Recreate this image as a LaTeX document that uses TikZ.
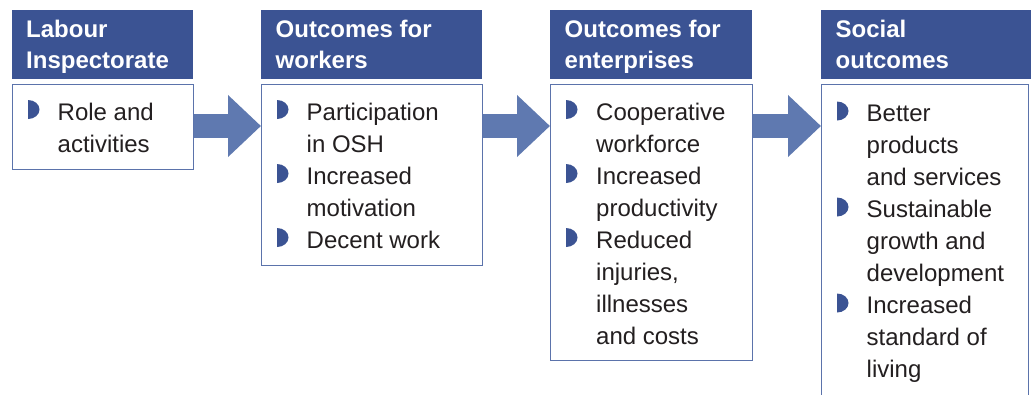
\documentclass[tikz,border=0pt]{standalone}
\usepackage{fontspec}
\setmainfont{Liberation Sans}
\usetikzlibrary{arrows.meta}
\definecolor{hdr}{HTML}{3B5393}
\definecolor{arr}{HTML}{5F79B0}
\definecolor{brd}{HTML}{5B73AB}
\definecolor{txt}{HTML}{231F20}
\begin{document}
\begin{tikzpicture}[x=1pt,y=-1pt,
  hdrbox/.style={fill=hdr,draw=none,inner sep=0pt,anchor=north west},
  bodybox/.style={draw=brd,line width=1.1pt,fill=white,inner sep=0pt,anchor=north west},
  htext/.style={anchor=base west,inner sep=0pt,text=white,font=\fontsize{24}{31}\selectfont\bfseries},
  btext/.style={anchor=base west,inner sep=0pt,text=txt,font=\fontsize{24}{32}\selectfont},
  blockarrow/.style={draw=arr,line width=24pt,-{Triangle[length=33pt,width=60pt,fill=arr]}},
  bul/.style={fill=hdr}
]
\useasboundingbox (0,0) rectangle (1031,394);
% header boxes
\node[hdrbox,minimum width=181pt,minimum height=69pt] (h1) at (12,10) {};
\node[hdrbox,minimum width=221pt,minimum height=69pt] (h2) at (261,10) {};
\node[hdrbox,minimum width=202pt,minimum height=69pt] (h3) at (550,10) {};
\node[hdrbox,minimum width=215pt,minimum height=69pt] (h4) at (821,10) {};
% body boxes
\node[bodybox,minimum width=181pt,minimum height=85pt] (b1) at (12,84) {};
\node[bodybox,minimum width=221pt,minimum height=181pt] (b2) at (261,84) {};
\node[bodybox,minimum width=202pt,minimum height=276pt] (b3) at (550,84) {};
\node[bodybox,minimum width=207pt,minimum height=340pt] (b4) at (821,84) {};
% header texts
\node[htext] (h1a) at (26,37) {Labour};
\node[htext] (h1b) at (26,68.5) {Inspectorate};
\node[htext] (h2a) at (275.5,37) {Outcomes for};
\node[htext] (h2b) at (275.5,68.5) {workers};
\node[htext] (h3a) at (564.5,37) {Outcomes for};
\node[htext] (h3b) at (564.5,68.5) {enterprises};
\node[htext] (h4a) at (835.5,37) {Social};
\node[htext] (h4b) at (835.5,68.5) {outcomes};
% body texts
\foreach \i/\t in {0/Role and,1/activities}
  \node[btext] (t1-\i) at (57.5,{120+32*\i}) {\t};
\foreach \i/\t in {0/Participation,1/in OSH,2/Increased,3/motivation,4/Decent work}
  \node[btext] (t2-\i) at (306.5,{120+32*\i}) {\t};
\foreach \i/\t in {0/Cooperative,1/workforce,2/Increased,3/productivity,4/Reduced,5/{injuries,},6/illnesses,7/and costs}
  \node[btext] (t3-\i) at (596,{120+32*\i}) {\t};
\foreach \i/\t in {0/Better,1/products,2/and services,3/Sustainable,4/growth and,5/development,6/Increased,7/standard of,8/living}
  \node[btext] (t4-\i) at (866.5,{121.5+32*\i}) {\t};
% bullets
\foreach \x/\b in {28/120,277/120,277/184,277/248,566/120,566/184,566/248,837/121.5,837/217.5,837/313.5}
  \fill[bul] (\x,\b-1) arc[start angle=-90,end angle=90,x radius=11.5pt,y radius=9.5pt] -- cycle;
% arrows
\path (b1.north east) ++(0,42) coordinate (a1s);
\path (b2.north east) ++(0,42) coordinate (a2s);
\path (b3.north east) ++(0,42) coordinate (a3s);
\draw[blockarrow] (a1s) -- (b2.west |- a1s);
\draw[blockarrow] (a2s) -- (b3.west |- a2s);
\draw[blockarrow] (a3s) -- (b4.west |- a3s);
\end{tikzpicture}
\end{document}
